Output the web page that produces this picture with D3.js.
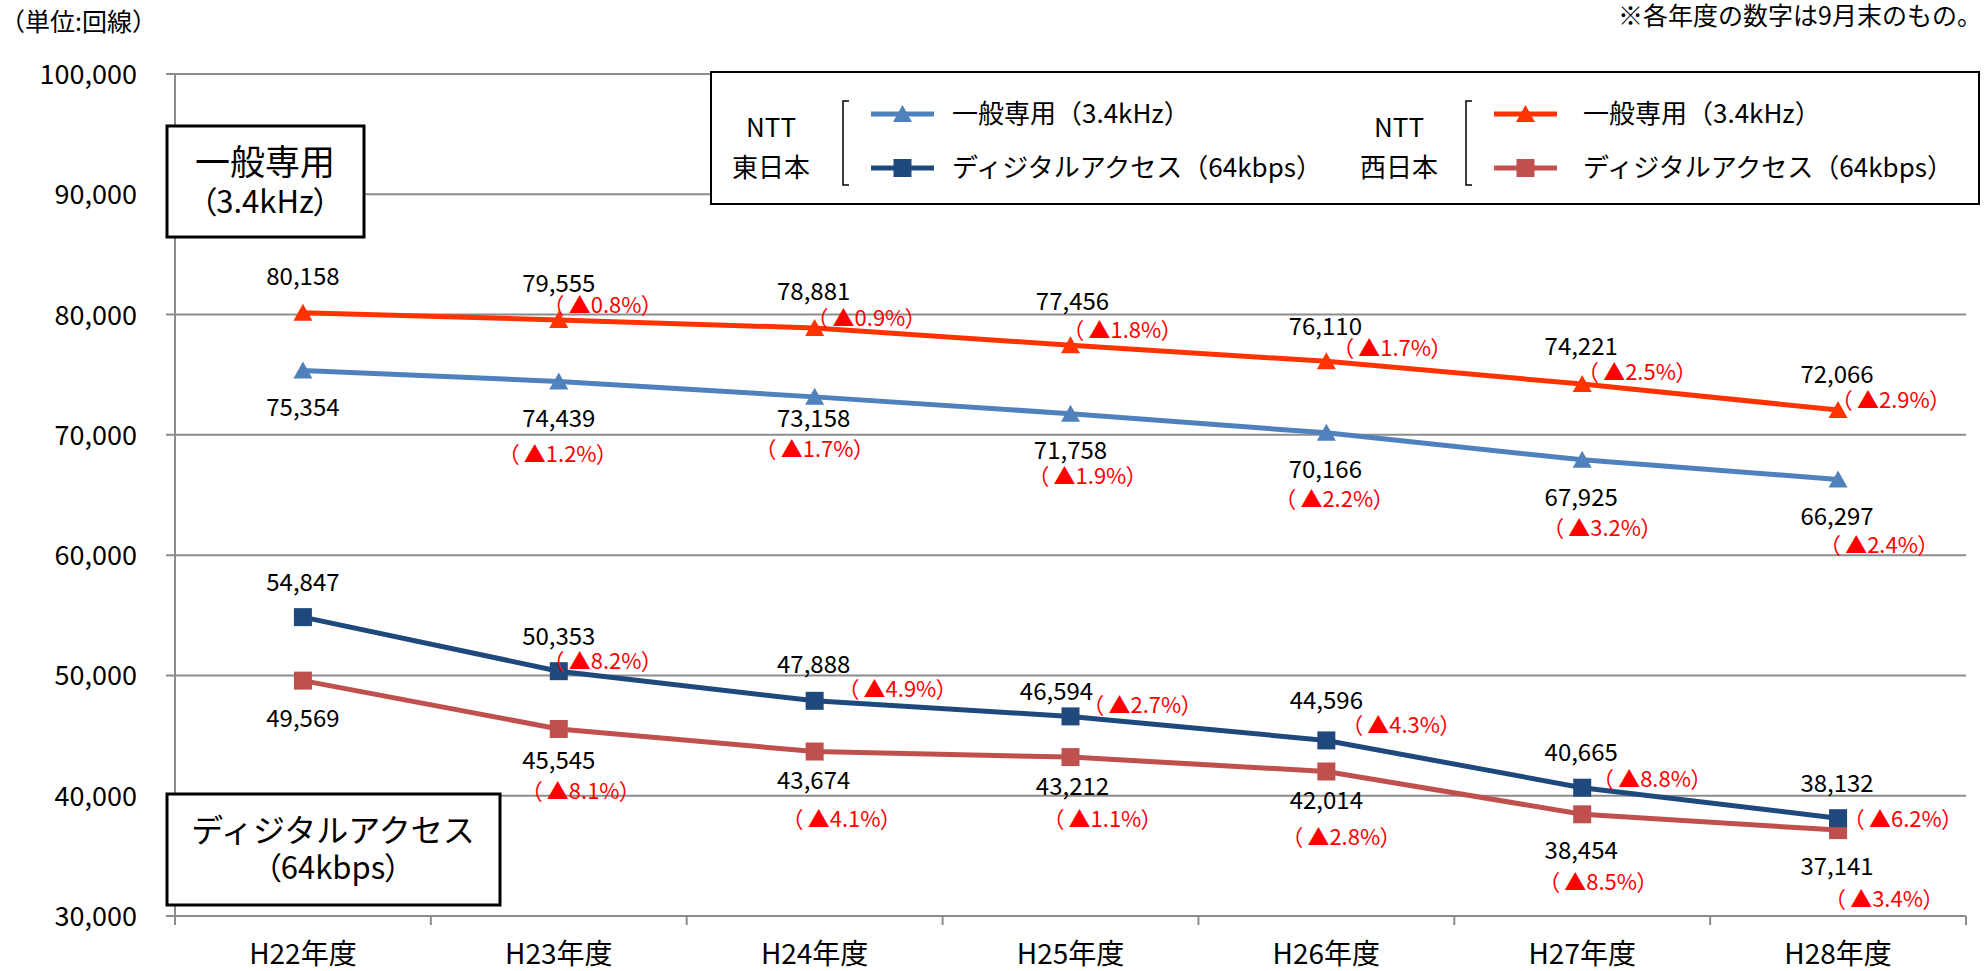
<!DOCTYPE html>
<html>
<head>
<meta charset="utf-8">
<script src="https://cdn.jsdelivr.net/npm/d3@7"></script>
<style>
  body { margin: 0; background: #fff; }
  text { font-family: "Noto Sans CJK JP", sans-serif; }
  .pct { fill: #ff0000; font-feature-settings: "palt"; }
</style>
</head>
<body>
<div id="chart"></div>
<script>
// data
var years = ["H22年度", "H23年度", "H24年度", "H25年度", "H26年度", "H27年度", "H28年度"];
var east34 = [75354, 74439, 73158, 71758, 70166, 67925, 66297];
var west34 = [80158, 79555, 78881, 77456, 76110, 74221, 72066];
var eastDig = [54847, 50353, 47888, 46594, 44596, 40665, 38132];
var westDig = [49569, 45545, 43674, 43212, 42014, 38454, 37141];
var east34Pct = [null, 1.2, 1.7, 1.9, 2.2, 3.2, 2.4];
var west34Pct = [null, 0.8, 0.9, 1.8, 1.7, 2.5, 2.9];
var eastDigPct = [null, 8.2, 4.9, 2.7, 4.3, 8.8, 6.2];
var westDigPct = [null, 8.1, 4.1, 1.1, 2.8, 8.5, 3.4];
var yTicks = [30000, 40000, 50000, 60000, 70000, 80000, 90000, 100000];

// label nudges relative to each point: value [dx, dy], pct [dx, dy, anchor]
var west34Nudge = [[0,-28],[0,-28],[-1,-28],[2,-35],[-1,-26],[-1,-29],[-1,-27]];
var east34Nudge = [[0,46],[0,46],[-1,30],[0,45],[-1,45],[-1,46],[-1,46]];
var eastDigNudge = [[0,-26],[0,-26],[-1,-28],[-14,-16],[0,-31],[-1,-27],[-1,-26]];
var westDigNudge = [[0,46],[0,40],[-1,37],[2,38],[0,38],[-1,45],[-1,45]];
var west34PctNudge = [null,[-6,-7,"start"],[2,-2,"start"],[2,-7,"start"],[16,-5,"start"],[5,-4,"start"],[3,-2,"start"]];
var east34PctNudge = [null,[-1,81,"middle"],[0,60,"middle"],[17,70,"middle"],[8,74,"middle"],[20,76,"middle"],[41,74,"middle"]];
var eastDigPctNudge = [null,[-6,-2,"start"],[33,-4,"start"],[22,-3,"start"],[25,-7,"start"],[20,-1,"start"],[15,9,"start"]];
var westDigPctNudge = [null,[22,70,"middle"],[27,75,"middle"],[32,70,"middle"],[15,74,"middle"],[16,76,"middle"],[46,77,"middle"]];

var W = 1985, H = 971;
var plotL = 175, plotR = 1966, plotT = 74, plotB = 916;

var svg = d3.select("#chart").append("svg")
            .attr("width", W)
            .attr("height", H);

/***Scales***/
var xScale = d3.scaleBand().domain(years).range([plotL, plotR]);
var yScale = d3.scaleLinear().domain([30000, 100000]).range([plotB, plotT]);
var px = function(i) { return xScale(years[i]) + xScale.bandwidth() / 2; };

/***Grid lines***/
svg.append("g").selectAll("line")
   .data(yTicks)
   .enter().append("line")
   .attr("x1", plotL - 9).attr("x2", plotR)
   .attr("y1", function(d) { return yScale(d); })
   .attr("y2", function(d) { return yScale(d); })
   .attr("stroke", "#8c8c8c").attr("stroke-width", 2);

/***Y axis***/
var yAxis = d3.axisLeft(yScale).tickValues(yTicks).tickSize(0).tickPadding(0)
              .tickFormat(d3.format(","));
svg.append("g")
   .attr("transform", "translate(137,0)")
   .call(yAxis)
   .call(function(g) { g.select(".domain").remove(); })
   .selectAll("text")
   .attr("font-family", "Noto Sans CJK JP")
   .attr("font-size", 27)
   .attr("fill", "#000")
   .attr("dy", "0.35em");

/***X axis***/
svg.append("line")
   .attr("x1", plotL).attr("x2", plotL).attr("y1", plotT).attr("y2", plotB + 9)
   .attr("stroke", "#8c8c8c").attr("stroke-width", 2);
var bounds = years.map(function(d) { return xScale(d); }).concat([plotR]);
svg.append("g").selectAll("line")
   .data(bounds.slice(1))
   .enter().append("line")
   .attr("x1", function(d) { return d; }).attr("x2", function(d) { return d; })
   .attr("y1", plotB).attr("y2", plotB + 9)
   .attr("stroke", "#8c8c8c").attr("stroke-width", 2);

var xAxis = d3.axisBottom(xScale).tickSize(0).tickPadding(0);
svg.append("g")
   .attr("transform", "translate(0," + plotB + ")")
   .call(xAxis)
   .call(function(g) { g.select(".domain").remove(); })
   .selectAll("text")
   .attr("font-family", "Noto Sans CJK JP")
   .attr("font-size", 28)
   .attr("fill", "#000")
   .attr("dy", null)
   .attr("y", 48);

/***Series***/
var series = [
  { vals: west34, pct: west34Pct, nudge: west34Nudge, pctNudge: west34PctNudge, color: "#ff3300", shape: "tri" },
  { vals: east34, pct: east34Pct, nudge: east34Nudge, pctNudge: east34PctNudge, color: "#4f81bd", shape: "tri" },
  { vals: westDig, pct: westDigPct, nudge: westDigNudge, pctNudge: westDigPctNudge, color: "#c0504d", shape: "sq" },
  { vals: eastDig, pct: eastDigPct, nudge: eastDigNudge, pctNudge: eastDigPctNudge, color: "#1f497d", shape: "sq" }
];

var tri = "M0,-9L9.5,8L-9.5,8Z";
var sq = "M-9,-9H9V9H-9Z";

var line = d3.line()
             .x(function(d, i) { return px(i); })
             .y(function(d) { return yScale(d); });

series.forEach(function(s) {
  svg.append("path")
     .datum(s.vals)
     .attr("d", line)
     .attr("fill", "none")
     .attr("stroke", s.color)
     .attr("stroke-width", 5);

  svg.append("g").selectAll("path")
     .data(s.vals)
     .enter().append("path")
     .attr("d", s.shape == "tri" ? tri : sq)
     .attr("transform", function(d, i) { return "translate(" + px(i) + "," + yScale(d) + ")"; })
     .attr("fill", s.color);
});

series.forEach(function(s) {
  svg.append("g").selectAll("text")
     .data(s.vals)
     .enter().append("text")
     .attr("x", function(d, i) { return px(i) + s.nudge[i][0]; })
     .attr("y", function(d, i) { return yScale(d) + s.nudge[i][1]; })
     .attr("text-anchor", "middle")
     .attr("font-size", 24)
     .attr("fill", "#000")
     .text(function(d) { return d3.format(",")(d); });

  var idx = d3.range(1, s.pct.length);
  svg.append("g").selectAll("text")
     .data(idx)
     .enter().append("text")
     .attr("class", "pct")
     .attr("x", function(k) { return px(k) + s.pctNudge[k][0]; })
     .attr("y", function(k) { return yScale(s.vals[k]) + s.pctNudge[k][1]; })
     .attr("text-anchor", function(k) { return s.pctNudge[k][2]; })
     .attr("font-size", 22)
     .text(function(k) { return "（ ▲" + s.pct[k].toFixed(1) + "%）"; });
});

/***Category boxes***/
var box1 = svg.append("g");
box1.append("rect").attr("x", 167).attr("y", 126).attr("width", 197).attr("height", 111)
    .attr("fill", "#fff").attr("stroke", "#000").attr("stroke-width", 3);
box1.append("text").attr("x", 265).attr("y", 175).attr("text-anchor", "middle")
    .attr("font-size", 35).text("一般専用");
box1.append("text").attr("x", 265).attr("y", 213).attr("text-anchor", "middle")
    .attr("font-size", 31).style("font-feature-settings", "'palt'").text("（3.4kHz）");

var box2 = svg.append("g");
box2.append("rect").attr("x", 167).attr("y", 794).attr("width", 333).attr("height", 111)
    .attr("fill", "#fff").attr("stroke", "#000").attr("stroke-width", 3);
box2.append("text").attr("x", 333).attr("y", 842).attr("text-anchor", "middle")
    .attr("font-size", 32).text("ディジタルアクセス");
box2.append("text").attr("x", 333).attr("y", 879).attr("text-anchor", "middle")
    .attr("font-size", 31).style("font-feature-settings", "'palt'").text("（64kbps）");

/***Legend***/
var lg = svg.append("g");
lg.append("rect").attr("x", 711).attr("y", 72).attr("width", 1268).attr("height", 132)
  .attr("fill", "#fff").attr("stroke", "#000").attr("stroke-width", 2);

var groups = [
  { x: 771, name: "東日本", bx: 843, lx: 871, tx: 952, c34: "#4f81bd", cDig: "#1f497d" },
  { x: 1399, name: "西日本", bx: 1466, lx: 1494, tx: 1583, c34: "#ff3300", cDig: "#c0504d" }
];
groups.forEach(function(g) {
  lg.append("text").attr("x", g.x).attr("y", 137).attr("text-anchor", "middle")
    .attr("font-size", 26).text("NTT");
  lg.append("text").attr("x", g.x).attr("y", 177).attr("text-anchor", "middle")
    .attr("font-size", 26).text(g.name);
  lg.append("path").attr("d", "M" + (g.bx + 6) + ",101H" + g.bx + "V185H" + (g.bx + 6))
    .attr("fill", "none").attr("stroke", "#000").attr("stroke-width", 1.5);
  lg.append("line").attr("x1", g.lx).attr("x2", g.lx + 63).attr("y1", 114).attr("y2", 114)
    .attr("stroke", g.c34).attr("stroke-width", 5);
  lg.append("path").attr("d", tri).attr("transform", "translate(" + (g.lx + 31.5) + ",114)")
    .attr("fill", g.c34);
  lg.append("line").attr("x1", g.lx).attr("x2", g.lx + 63).attr("y1", 168).attr("y2", 168)
    .attr("stroke", g.cDig).attr("stroke-width", 5);
  lg.append("path").attr("d", sq).attr("transform", "translate(" + (g.lx + 31.5) + ",168)")
    .attr("fill", g.cDig);
  lg.append("text").attr("x", g.tx).attr("y", 123).attr("font-size", 26).text("一般専用（3.4kHz）");
  lg.append("text").attr("x", g.tx).attr("y", 177).attr("font-size", 26).text("ディジタルアクセス（64kbps）");
});

/***Notes***/
svg.append("text").attr("x", 0).attr("y", 31).attr("font-size", 25).text("（単位:回線）");
svg.append("text").attr("x", 1982).attr("y", 25).attr("text-anchor", "end")
   .attr("font-size", 25).text("※各年度の数字は9月末のもの。");
</script>
</body>
</html>
